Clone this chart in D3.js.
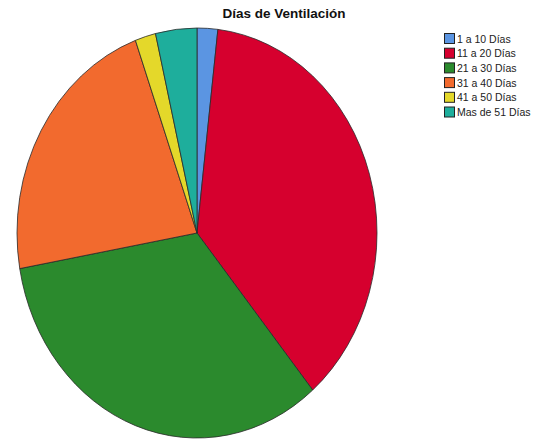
<!DOCTYPE html>
<html>
<head>
<meta charset="utf-8">
<script src="https://cdn.jsdelivr.net/npm/d3@7"></script>
<style>
  html, body { margin: 0; padding: 0; background: #fff; }
  svg { display: block; }
</style>
</head>
<body>
<svg id="chart" width="543" height="440"></svg>
<script>
// Categories and patient counts per ventilation-day range
const categories = ["1 a 10 Días", "11 a 20 Días", "21 a 30 Días", "31 a 40 Días", "41 a 50 Días", "Mas de 51 Días"];
const counts = [1, 20, 18, 12, 1, 2];
const colors = ["#5b95e2", "#d6002e", "#2b8a2d", "#f26a2e", "#e4d82a", "#1eae9c"];
const title = "Días de Ventilación";

const svg = d3.select("#chart");

// Elliptical pie: circle of radius rx stretched vertically
const cx = 197, cy = 233, rx = 180, ry = 205;

const pie = d3.pie().sort(null).value(d => d)(counts);
const arc = d3.arc().innerRadius(0).outerRadius(rx);

const color = d3.scaleOrdinal().domain(categories).range(colors);

const g = svg.append("g")
  .attr("transform", `translate(${cx},${cy}) scale(1,${ry / rx})`);

g.selectAll("path.slice")
  .data(pie)
  .join("path")
  .attr("class", "slice")
  .attr("d", arc)
  .attr("fill", (d, i) => color(categories[i]))
  .attr("stroke", "#2a2a2a")
  .attr("stroke-width", 0.8)
  .attr("vector-effect", "non-scaling-stroke");

// Title
svg.append("text")
  .attr("x", 284)
  .attr("y", 18)
  .attr("text-anchor", "middle")
  .attr("font-family", "Liberation Sans, Arial, sans-serif")
  .attr("font-size", 13.5)
  .attr("font-weight", "bold")
  .attr("fill", "#111")
  .text(title);

// Legend
const legend = svg.append("g").attr("transform", "translate(444,33)");
const rowH = 14.7;
const items = legend.selectAll("g.item")
  .data(categories)
  .join("g")
  .attr("class", "item")
  .attr("transform", (d, i) => `translate(0,${i * rowH})`);

items.append("rect")
  .attr("x", 0.5)
  .attr("y", 0.5)
  .attr("width", 10)
  .attr("height", 10)
  .attr("fill", d => color(d))
  .attr("stroke", "#222")
  .attr("stroke-width", 1);

items.append("text")
  .attr("x", 13)
  .attr("y", 9.5)
  .attr("font-family", "Liberation Sans, Arial, sans-serif")
  .attr("font-size", 10.5)
  .attr("fill", "#222")
  .text(d => d);
</script>
</body>
</html>
